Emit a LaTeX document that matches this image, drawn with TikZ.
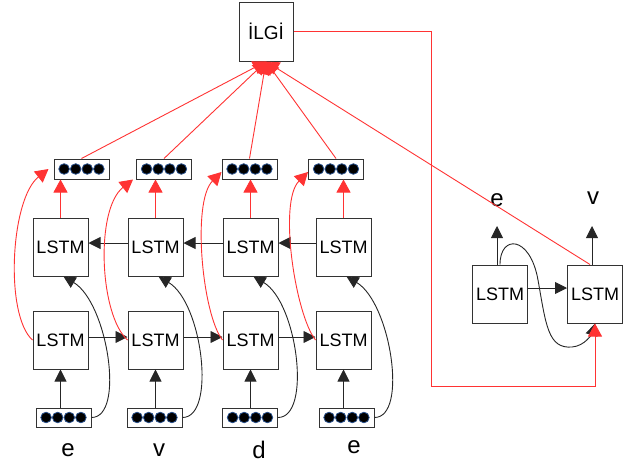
\documentclass[tikz,border=0pt]{standalone}
\usepackage{fontspec}
\setmainfont{Liberation Sans}
\usetikzlibrary{arrows.meta}
\definecolor{myred}{RGB}{255,51,51}
\definecolor{dotblue}{RGB}{40,80,140}
\begin{document}
\begin{tikzpicture}[x=1pt,y=-1pt,
 lstm/.style={draw=black!80,line width=1pt,fill=white,minimum width=55pt,minimum height=58pt,inner sep=0pt,font=\fontsize{18}{18}\selectfont},
 vec/.style={draw=black!80,line width=1pt,fill=white,minimum width=55pt,minimum height=20pt,inner sep=0pt,
   path picture={\foreach \dx in {-17.4,-5.8,5.8,17.4}{\fill[black,draw=dotblue,line width=0.8pt] ([xshift=\dx pt]path picture bounding box.center) circle (5.3pt);}}},
 lab/.style={font=\fontsize{24}{24}\selectfont,inner sep=0pt},
 blk/.style={draw=black!85,line width=0.9pt,-{Triangle[width=12pt,length=12pt]}},
 redl/.style={draw=myred,line width=0.9pt,-{Triangle[width=14pt,length=13pt]}},
 ]
\useasboundingbox (0,0) rectangle (626,464);

% nodes
\node[draw=black!80,line width=1pt,fill=white,minimum width=54pt,minimum height=59pt,inner sep=0pt,font=\fontsize{19}{19}\selectfont] (ilgi) at (266,31.5) {İLGİ};

\node[vec] (tv1) at (81.5,169) {};
\node[vec] (tv2) at (164,169) {};
\node[vec] (tv3) at (249.5,169) {};
\node[vec] (tv4) at (336,169) {};

\node[lstm] (tl1) at (60.5,247) {LSTM};
\node[lstm] (tl2) at (155.5,247) {LSTM};
\node[lstm] (tl3) at (250.5,247) {LSTM};
\node[lstm] (tl4) at (343.5,247) {LSTM};

\node[lstm] (bl1) at (60.5,340) {LSTM};
\node[lstm] (bl2) at (155.5,340) {LSTM};
\node[lstm] (bl3) at (250.5,340) {LSTM};
\node[lstm] (bl4) at (343.5,340) {LSTM};

\node[vec,minimum height=19pt] (bv1) at (63.5,417.5) {};
\node[vec,minimum height=19pt] (bv2) at (154.5,417.5) {};
\node[vec,minimum height=19pt] (bv3) at (250,417.5) {};
\node[vec,minimum height=19pt] (bv4) at (346.5,417.5) {};

\node[lab] (w1) at (68,450) {e};
\node[lab] (w2) at (159,450) {v};
\node[lab] (w3) at (259,450) {d};
\node[lab] (w4) at (354,447) {e};

\node[lstm] (r1) at (500,294) {LSTM};
\node[lstm] (r2) at (595,294) {LSTM};
\node[lab] (o1) at (497,200) {e};
\node[lab] (o2) at (593,198) {v};

\coordinate (r1up) at (497,226);
\coordinate (r2up) at (592,226);
\coordinate (corner) at (431,386);
\coordinate (loopmid) at (538,280);
\coordinate (loopbot) at (572,347);

% black up arrows from input vectors
\foreach \i in {1,2,3,4}{
  \draw[blk] (bv\i.north -| bl\i.south) -- (bl\i.south);
}
% forward arrows (bottom row)
\draw[blk] ([yshift=3pt]bl1.east) -- ([yshift=3pt]bl2.west);
\draw[blk] ([yshift=3pt]bl2.east) -- ([yshift=3pt]bl3.west);
\draw[blk] ([yshift=3pt]bl3.east) -- ([yshift=3pt]bl4.west);
% backward arrows (top row)
\draw[blk] ([yshift=4pt]tl2.west) -- ([yshift=4pt]tl1.east);
\draw[blk] ([yshift=4pt]tl3.west) -- ([yshift=4pt]tl2.east);
\draw[blk] ([yshift=4pt]tl4.west) -- ([yshift=4pt]tl3.east);
% black loops from input vectors to top LSTMs
\foreach \i in {1,2,3,4}{
  \draw[blk] (bv\i.east) .. controls +(34,0) and +(44,26) .. ([xshift=3pt]tl\i.south);
}
% red arrows top LSTM -> vector
\foreach \i in {1,2,3,4}{
  \draw[redl] (tl\i.north) -- (tl\i.north |- tv\i.south);
}
% red curves bottom LSTM -> vector
\draw[redl] (bl1.west) .. controls +(-28,-25) and +(-38,30) .. ([xshift=-5pt]tv1.west);
\draw[redl] (bl2.west) .. controls +(-28,-25) and +(-38,30) .. ([xshift=-3pt]tv2.south west);
\draw[redl] (bl3.west) .. controls +(-20,-25) and +(-30,30) .. ([yshift=-3pt]tv3.west);
\draw[redl] (bl4.west) .. controls +(-20,-25) and +(-30,30) .. ([yshift=-3pt]tv4.west);

% red lines to ILGI
\foreach \i in {1,2,3,4}{
  \draw[redl] (tv\i.north) -- (ilgi.south);
}
\draw[redl] ([xshift=-5pt]r2.north) -- (ilgi.south);

% right decoder part
\draw[blk] (r1.north -| r1up) -- (r1up);
\draw[blk] (r2.north -| r2up) -- (r2up);
\draw[blk] ([yshift=6pt]r1.east) -- ([yshift=6pt]r2.west);
\draw[blk] (r1.north) .. controls +(0,-30) and +(-8,-45) .. (loopmid)
   .. controls +(8,45) and +(-24,2) .. (loopbot)
   .. controls +(13,-1) and +(-3,10) .. (r2.south);
\draw[redl] (ilgi.east) -| (corner) -| (r2.south);
\end{tikzpicture}
\end{document}
